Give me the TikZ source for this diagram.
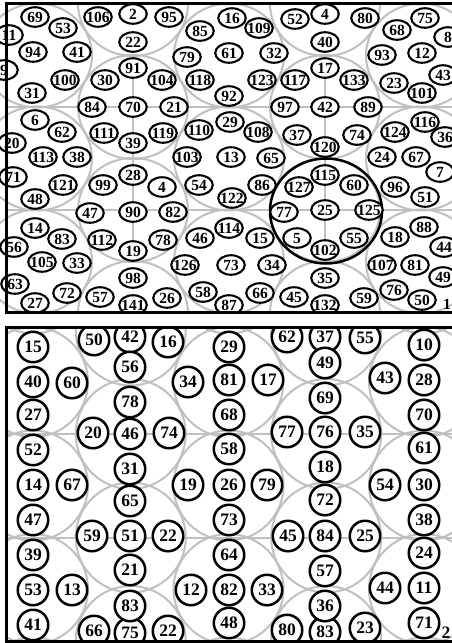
\documentclass[tikz,border=0pt]{standalone}
\usepackage{fontspec}
\setmainfont{Liberation Serif}
\usetikzlibrary{shapes.geometric}
\definecolor{lg}{RGB}{192,192,192}
\newcommand\cnum[1]{\smash{\makebox[0pt]{\raisebox{-0.34em}{#1}}}}
\begin{document}
\begin{tikzpicture}[x=1pt,y=-1pt,
  tc/.style={ellipse, draw=black, fill=white, line width=2.1pt, minimum width=27.5pt, minimum height=19.5pt, inner sep=0pt, font=\fontsize{15.5}{16}\selectfont\bfseries},
  bc/.style={circle, draw=black, fill=white, line width=2.5pt, minimum size=30.5pt, inner sep=0pt, font=\fontsize{17.5}{18}\selectfont\bfseries},
  tl/.style={inner sep=0pt, font=\fontsize{15.5}{16}\selectfont\bfseries},
  bl/.style={inner sep=0pt, font=\fontsize{17.5}{18}\selectfont\bfseries},
  gline/.style={draw=lg, line width=2pt},
  hexc/.style={draw=lg, line width=2pt},
  framel/.style={draw=black, line width=3pt}]
\useasboundingbox[fill=white] (0,0) rectangle (452,643);

% ================= TOP PANEL =================
\begin{scope}
\clip (-20,3) rectangle (470,312);
\foreach \x in {37,229,421}{\foreach \y in {-47.5,55.5,158.5,261.5,364.5}{\draw[hexc] (\x,\y) ellipse [x radius=55, y radius=52];}}
\foreach \x in {133,325}{\foreach \y in {4,107,210,313}{\draw[hexc] (\x,\y) ellipse [x radius=55, y radius=52];}}
\draw[gline] (6.5,107) -- (470,107);
\draw[gline] (6.5,210) -- (470,210);
\foreach \x in {133,325}{\foreach \y in {107,210}{\draw[gline] (\x,\y-52) -- (\x,\y+52);}}
\draw[black, line width=2.5pt] (326,211) ellipse [x radius=56, y radius=52.5];
\foreach \n/\x/\y in {
 106/98/17, 2/133/14, 95/169/17, 22/133/42, 52/295/19, 80/365/18, 40/325/42,
 69/35/17, 53/63/28, 11/9/35, 94/33/52, 41/77/52, 9/4/70, 100/65/80, 31/32/93,
 85/200/31, 16/232/18, 109/259/28, 79/187/57, 61/229/53, 32/274/53, 118/200/80, 123/262/80, 92/229/96,
 75/425/18, 68/397/30, 8/448/37, 93/382/55, 12/422/53, 43/443/75, 23/394/83, 101/422/93,
 91/133/68, 104/162/80, 21/174/107, 119/163/133, 39/133/143, 111/104/133, 84/92/107, 30/105/80, 70/133/107,
 17/325/68, 133/354/80, 89/368/107, 74/357/135, 120/325/147, 37/297/135, 97/285/107, 117/295/80, 42/325/107,
 6/35/120, 62/62/132, 20/12/143, 113/43/157, 38/77/157, 71/13/177, 121/63/185, 48/35/199,
 110/199/130, 29/230/122, 108/258/132, 103/187/157, 13/231/157, 65/271/158, 54/199/185, 122/232/198, 86/262/185,
 116/425/122, 124/395/132, 36/445/137, 24/382/157, 67/416/157, 7/440/172, 96/395/187, 51/425/197,
 28/133/175, 82/173/212, 78/163/240, 19/133/251, 112/102/240, 47/90/213, 99/103/185, 90/133/212,
 115/325/175, 60/354/185, 125/369/210, 55/354/238, 102/325/250, 5/297/238, 77/284/212, 127/299/187, 25/325/210,
 14/35/228, 83/62/239, 56/14/247, 105/42/262, 33/77/263, 63/15/284, 72/67/293, 27/35/303,
 114/229/228, 46/200/238, 15/260/238, 126/185/265, 73/231/265, 34/272/265, 58/203/292, 87/229/305, 66/260/293,
 88/424/227, 18/395/237, 44/444/247, 107/382/265, 81/415/265, 49/443/277, 76/394/290, 50/422/300,
 98/133/278, 57/100/297, 141/133/305, 26/167/298, 35/325/278, 45/294/297, 132/325/305, 59/364/298}
 {\node[tc] (t\n) at (\x,\y) {\cnum{\n}};}
\node[tc] (t4a) at (325,14) {\cnum{4}};
\node[tc] (t4b) at (162,187) {\cnum{4}};
\end{scope}
\node[tl] (tone) at (447,304) {\cnum{1}};
\draw[framel] (470,3) -- (6.5,3) -- (6.5,312) -- (470,312);

% ================= BOTTOM PANEL =================
\begin{scope}
\clip (6.5,327) rectangle (470,641);
\foreach \x in {33,228.5,424}{\foreach \y in {278.5,382,485.5,589,692.5}{\draw[hexc] (\x,\y) circle [radius=55];}}
\foreach \x in {130.75,326.25}{\foreach \y in {330.5,434,537.5,641}{\draw[hexc] (\x,\y) circle [radius=55];}}
\draw[gline] (0,434) -- (470,434);
\draw[gline] (0,537.5) -- (470,537.5);
\foreach \n/\x/\y in {
 42/130/337, 37/325/337, 75/130/633,
 50/94/340, 16/168/342, 62/287/337, 55/365/338, 10/424/345, 15/33/347, 29/229/347,
 56/130/367, 78/130/402, 46/130/434, 31/130/469, 65/130/501, 51/130/536, 21/130/570,
 20/93/433, 74/169/433, 59/92/536, 66/94/631,
 40/33/382, 27/33/415, 52/33/450, 14/33/485, 47/33/520, 39/33/555, 53/33/590, 41/33/625,
 60/72/383, 67/72/485, 13/72/590,
 81/229/380, 68/229/415, 58/229/449, 26/229/485, 73/229/520, 64/229/555, 82/229/590, 48/229/623,
 34/188/382, 17/268/380, 19/188/485, 79/267/485, 12/191/590, 33/267/590,
 49/325/363, 69/325/398, 76/325/432, 18/325/467, 72/325/500, 84/325/536, 57/325/571,
 77/287/432, 35/365/432, 45/288/536, 25/365/536, 80/287/630, 23/365/628,
 28/424/380, 70/424/415, 61/424/448, 30/424/485, 38/424/520, 24/424/553, 11/424/588, 71/424/623,
 43/385/378, 54/385/485, 44/385/588}
 {\node[bc] (b\n) at (\x,\y) {\cnum{\n}};}
\node[bc] (b83b) at (325,632) {\cnum{83}};
\node[bc] (b36) at (325,606) {\cnum{36}};
\node[bc] (b83a) at (130,606) {\cnum{83}};
\node[bc] (b22a) at (168,536) {\cnum{22}};
\node[bc] (b22b) at (168,631) {\cnum{22}};
\end{scope}
\node[bl] (btwo) at (446,633) {\cnum{2}};
\draw[framel] (470,327) -- (6.5,327) -- (6.5,641) -- (470,641);
\end{tikzpicture}
\end{document}
